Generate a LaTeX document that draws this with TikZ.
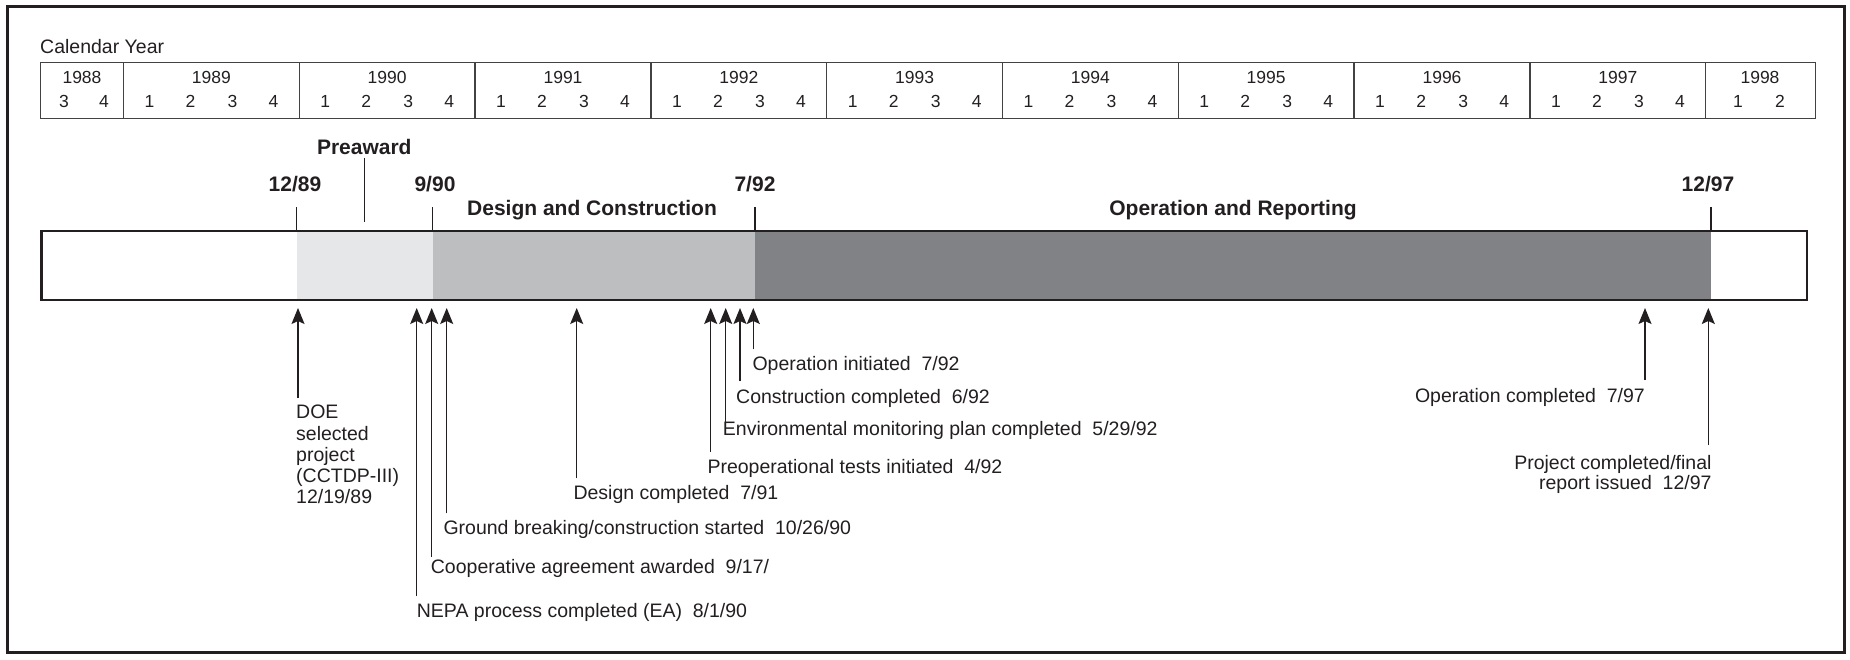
\documentclass[tikz,border=0pt]{standalone}
\usepackage{fontspec}
\setmainfont{Liberation Sans}
\usetikzlibrary{arrows.meta}
\definecolor{ink}{HTML}{231F20}
\definecolor{gA}{HTML}{E6E7E8}
\definecolor{gB}{HTML}{BCBEC0}
\definecolor{gC}{HTML}{808285}
\begin{document}
\begin{tikzpicture}[x=1pt,y=-1pt,
  lbl/.style={font=\fontsize{19.5}{21.2}\selectfont, text=ink, inner sep=0pt},
  tbl/.style={font=\fontsize{17.5}{20}\selectfont, text=ink, inner sep=0pt, anchor=base},
  bld/.style={font=\fontsize{21}{24}\selectfont\bfseries, text=ink, inner sep=0pt, anchor=base},
  conn/.style={draw=ink, line width=1.3pt, -{Stealth[length=16pt,width=13pt,inset=3pt]}},
  tickline/.style={draw=ink, line width=1.3pt},
  tblline/.style={draw=ink!85, line width=1.3pt}]

\useasboundingbox (0,0) rectangle (1850,660);
\draw[ink, line width=3pt] (7,7) rectangle (1844,652);

% calendar
\node[lbl, anchor=base west] (cal) at (40,54) {Calendar Year};
\draw[tblline] (40.7,62.3) rectangle (1815.7,118.3);
\foreach \yr in {1989,...,1998}
  \draw[tblline] ({299.3+175.8*(\yr-1990)},62.3) -- ++(0,56);
\node[tbl] (y1988) at (82,83.5) {1988};
\node[tbl] (q1988-3) at (64,108) {3};
\node[tbl] (q1988-4) at (104,108) {4};
\foreach \yr in {1989,...,1997} {
  \pgfmathsetmacro\xs{299.3+175.8*(\yr-1990)}
  \node[tbl] (y\yr) at (\xs+87.9,83.5) {\yr};
  \foreach \q/\o in {1/26,2/67,3/109,4/150}
    \node[tbl] (q\yr-\q) at (\xs+\o,108) {\q};
}
\node[tbl] (y1998) at (1760,83.5) {1998};
\node[tbl] (q1998-1) at (1738,108) {1};
\node[tbl] (q1998-2) at (1780,108) {2};

% bar
\fill[gA] (296.5,231) rectangle (432.7,300);
\fill[gB] (432.7,231) rectangle (755,300);
\fill[gC] (755,231) rectangle (1711,300);
\draw[ink, line width=2.4pt] (41.5,231) rectangle (1806.7,300);
\coordinate (barL) at (41.5,231);

% phase labels and ticks
\node[bld] (d1289) at (295,191.5) {12/89};
\node[bld] (pre) at (364.3,154.3) {Preaward};
\node[bld] (d990) at (435,191.5) {9/90};
\node[bld] (d792) at (755,191.5) {7/92};
\node[bld] (d1297) at (1708,191.5) {12/97};
\node[bld] (dc) at (592,216) {Design and Construction};
\node[bld] (orp) at (1233,216) {Operation and Reporting};

\coordinate (k1) at (296.7,207);
\coordinate (k2) at (364.3,158);
\coordinate (k3) at (432.7,207);
\coordinate (k4) at (755,207);
\coordinate (k5) at (1711,207);
\draw[tickline] (k1) -- (k1 |- barL);
\draw[tickline] (k2) -- ++(0,64);
\draw[tickline] (k3) -- (k3 |- barL);
\draw[tickline] (k4) -- (k4 |- barL);
\draw[tickline] (k5) -- (k5 |- barL);

% milestone arrows
\coordinate (t1) at (298,308);   \coordinate (s1) at (298,398);
\coordinate (t2) at (416.7,308); \coordinate (s2) at (416.7,596);
\coordinate (t3) at (431.7,308); \coordinate (s3) at (431.7,556.7);
\coordinate (t4) at (446.7,308); \coordinate (s4) at (446.7,513.3);
\coordinate (t5) at (576.7,308); \coordinate (s5) at (576.7,478.3);
\coordinate (t6) at (710.7,308); \coordinate (s6) at (710.7,451.7);
\coordinate (t7) at (725.7,308); \coordinate (s7) at (725.7,426.7);
\coordinate (t8) at (740,308);   \coordinate (s8) at (740,381);
\coordinate (t9) at (753.3,308); \coordinate (s9) at (753.3,349.3);
\coordinate (t10) at (1645,308); \coordinate (s10) at (1645,380);
\coordinate (t11) at (1708.3,308); \coordinate (s11) at (1708.3,445);
\foreach \i in {1,...,11} \draw[conn] (s\i) -- (t\i);

\node[lbl, anchor=north west, align=left] (doe) at (296,405)
  {DOE\\selected\\project\\(CCTDP-III)\\12/19/89};
\node[lbl, anchor=base west] (nepa) at (416.7,617) {NEPA process completed (EA)\ \ 8/1/90};
\node[lbl, anchor=base west] (coop) at (430.7,573.7) {Cooperative agreement awarded\ \ 9/17/};
\node[lbl, anchor=base west] (grnd) at (443.3,534.7) {Ground breaking/construction started\ \ 10/26/90};
\node[lbl, anchor=base west] (desc) at (573.3,499.7) {Design completed\ \ 7/91};
\node[lbl, anchor=base west] (preop) at (707.3,473.7) {Preoperational tests initiated\ \ 4/92};
\node[lbl, anchor=base west] (envm) at (722.7,435) {Environmental monitoring plan completed\ \ 5/29/92};
\node[lbl, anchor=base west] (conc) at (736,403) {Construction completed\ \ 6/92};
\node[lbl, anchor=base west] (opin) at (752.3,370.3) {Operation initiated\ \ 7/92};
\node[lbl, anchor=base east] (opco) at (1645,402) {Operation completed\ \ 7/97};
\node[lbl, anchor=north east, align=right, font=\fontsize{19.5}{20}\selectfont] (proj) at (1711.7,454.7)
  {Project completed/final\\report issued\ \ 12/97};
\end{tikzpicture}
\end{document}
